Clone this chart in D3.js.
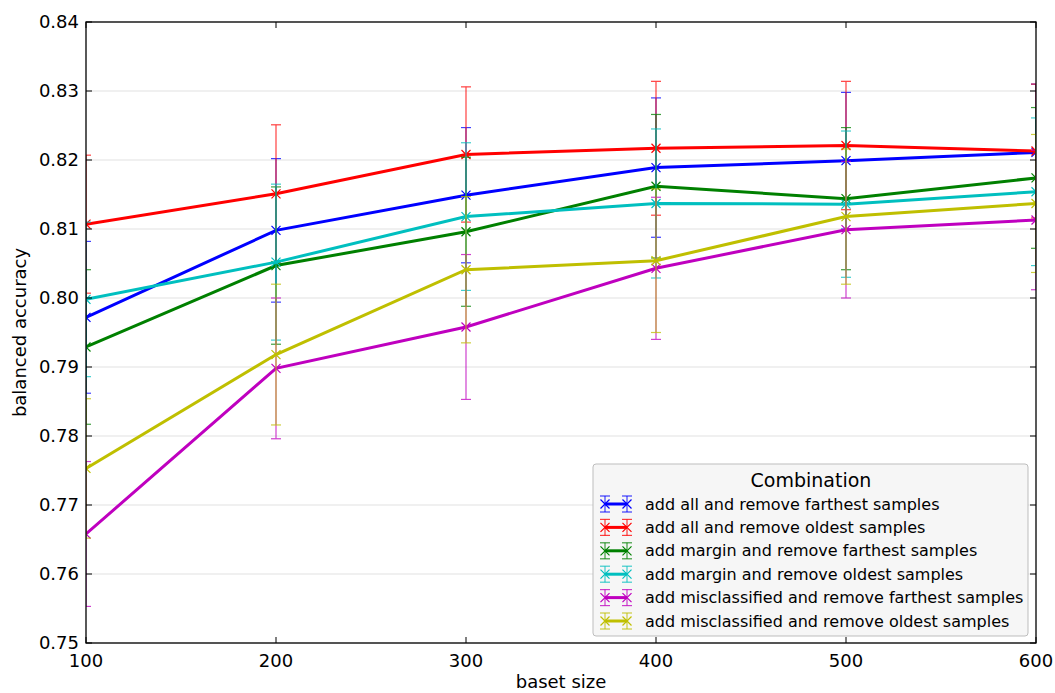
<!DOCTYPE html>
<html><head><meta charset="utf-8">
<script src="https://cdn.jsdelivr.net/npm/d3@7"></script>
<style>body{margin:0;background:#fff;} text{font-family:"DejaVu Sans",sans-serif;}</style>
</head><body><svg id="c" width="1055" height="693"></svg>
<script>
const baseSizes = [100, 200, 300, 400, 500, 600];
const yTicks = [0.75, 0.76, 0.77, 0.78, 0.79, 0.80, 0.81, 0.82, 0.83, 0.84];
const seriesNames = [
  "add all and remove farthest samples",
  "add all and remove oldest samples",
  "add margin and remove farthest samples",
  "add margin and remove oldest samples",
  "add misclassified and remove farthest samples",
  "add misclassified and remove oldest samples"
];
const seriesColors = ["#0000ff", "#ff0000", "#008000", "#00bfbf", "#bf00bf", "#bfbf00"];
const allFarthest = [0.7972, 0.8098, 0.8149, 0.8189, 0.8199, 0.8211];
const allFarthestErr = [0.0110, 0.0104, 0.0098, 0.0101, 0.0099, 0.0099];
const allOldest = [0.8107, 0.8151, 0.8208, 0.8217, 0.8221, 0.8213];
const allOldestErr = [0.0100, 0.0100, 0.0098, 0.0097, 0.0093, 0.0097];
const marginFarthest = [0.7929, 0.8047, 0.8096, 0.8162, 0.8144, 0.8174];
const marginFarthestErr = [0.0112, 0.0114, 0.0108, 0.0104, 0.0103, 0.0102];
const marginOldest = [0.7998, 0.8052, 0.8118, 0.8137, 0.8136, 0.8154];
const marginOldestErr = [0.0112, 0.0113, 0.0107, 0.0108, 0.0106, 0.0107];
const miscFarthest = [0.7658, 0.7898, 0.7958, 0.8043, 0.8099, 0.8113];
const miscFarthestErr = [0.0105, 0.0102, 0.0105, 0.0103, 0.0099, 0.0101];
const miscOldest = [0.7753, 0.7918, 0.8041, 0.8054, 0.8118, 0.8137];
const miscOldestErr = [0.0101, 0.0102, 0.0106, 0.0104, 0.0098, 0.0100];

const seriesVals = [allFarthest, allOldest, marginFarthest, marginOldest, miscFarthest, miscOldest];
const seriesErrs = [allFarthestErr, allOldestErr, marginFarthestErr, marginOldestErr, miscFarthestErr, miscOldestErr];

const svg = d3.select("#c");
const L = 86, R = 1036, T = 22, B = 643;
const x = d3.scaleLinear().domain([100, 600]).range([L, R]);
const y = d3.scaleLinear().domain([0.75, 0.84]).range([B, T]);

svg.append("g").selectAll("line").data(yTicks).join("line")
  .attr("x1", L).attr("x2", R).attr("y1", d => y(d)).attr("y2", d => y(d))
  .attr("stroke", "#ebebeb").attr("stroke-width", 1.5);

svg.append("clipPath").attr("id", "clip").append("rect")
  .attr("x", L).attr("y", T).attr("width", R - L).attr("height", B - T);

const plot = svg.append("g").attr("clip-path", "url(#clip)");

const series = seriesNames.map((n, i) => ({
  name: n, color: seriesColors[i],
  pts: baseSizes.map((b, j) => ({x: b, y: seriesVals[i][j], e: seriesErrs[i][j]}))
}));

const line = d3.line().x(d => x(d.x)).y(d => y(d.y));
const cap = 5, mk = 4.5;

series.forEach(s => {
  const g = plot.append("g");
  const eb = g.append("g").attr("stroke", s.color).attr("stroke-width", 1.2).attr("opacity", 0.75);
  s.pts.forEach(p => {
    eb.append("line").attr("x1", x(p.x)).attr("x2", x(p.x)).attr("y1", y(p.y - p.e)).attr("y2", y(p.y + p.e));
    [p.y - p.e, p.y + p.e].forEach(v => {
      eb.append("line").attr("x1", x(p.x) - cap).attr("x2", x(p.x) + cap).attr("y1", y(v)).attr("y2", y(v));
    });
  });
  g.append("path").datum(s.pts).attr("d", line).attr("fill", "none")
    .attr("stroke", s.color).attr("stroke-width", 3);
  const m = g.append("g").attr("stroke", s.color).attr("stroke-width", 1.2);
  s.pts.forEach(p => {
    const cx = x(p.x), cy = y(p.y);
    m.append("path").attr("d", `M${cx-mk},${cy-mk}L${cx+mk},${cy+mk}M${cx-mk},${cy+mk}L${cx+mk},${cy-mk}`);
  });
});

svg.append("rect").attr("x", L).attr("y", T).attr("width", R - L).attr("height", B - T)
  .attr("fill", "none").attr("stroke", "#000").attr("stroke-width", 1.3);

const tl = 6;
const tg = svg.append("g").attr("stroke", "#000").attr("stroke-width", 1);
yTicks.forEach(v => {
  tg.append("line").attr("x1", L).attr("x2", L + tl).attr("y1", y(v)).attr("y2", y(v));
  tg.append("line").attr("x1", R).attr("x2", R - tl).attr("y1", y(v)).attr("y2", y(v));
});
baseSizes.forEach(v => {
  tg.append("line").attr("x1", x(v)).attr("x2", x(v)).attr("y1", B).attr("y2", B - tl);
  tg.append("line").attr("x1", x(v)).attr("x2", x(v)).attr("y1", T).attr("y2", T + tl);
});

svg.append("g").selectAll("text").data(yTicks).join("text")
  .attr("x", L - 7).attr("y", d => y(d)).attr("dy", "0.35em").attr("text-anchor", "end")
  .attr("font-size", 18).text(d => d.toFixed(2));
svg.append("g").selectAll("text").data(baseSizes).join("text")
  .attr("x", d => x(d)).attr("y", B + 24).attr("text-anchor", "middle")
  .attr("font-size", 18).text(d => d);

svg.append("text").attr("x", (L + R) / 2).attr("y", 688).attr("text-anchor", "middle")
  .attr("font-size", 18).text("baset size");
svg.append("text").attr("transform", `translate(26,${(T + B) / 2}) rotate(-90)`)
  .attr("text-anchor", "middle").attr("font-size", 18).text("balanced accuracy");

const lg = svg.append("g").attr("transform", "translate(593,464)");
lg.append("rect").attr("width", 435).attr("height", 172).attr("rx", 3)
  .attr("fill", "#f5f5f5").attr("fill-opacity", 0.95).attr("stroke", "#bdbdbd").attr("stroke-width", 1);
lg.append("text").attr("x", 218).attr("y", 16).attr("text-anchor", "middle")
  .attr("font-size", 19).attr("dy", "0.35em").text("Combination");
series.forEach((s, i) => {
  const yy = 40 + i * 23.4;
  const g = lg.append("g").attr("transform", `translate(0,${yy})`);
  g.append("line").attr("x1", 12).attr("x2", 34).attr("y1", 0).attr("y2", 0)
    .attr("stroke", s.color).attr("stroke-width", 3);
  [12, 34].forEach(cx => {
    g.append("line").attr("x1", cx).attr("x2", cx).attr("y1", -8).attr("y2", 8).attr("stroke", s.color).attr("stroke-width", 1.2).attr("opacity", 0.75);
    [-8, 8].forEach(cy => g.append("line").attr("x1", cx - 5).attr("x2", cx + 5).attr("y1", cy).attr("y2", cy).attr("stroke", s.color).attr("stroke-width", 1.2).attr("opacity", 0.75));
    g.append("path").attr("d", `M${cx-mk},${-mk}L${cx+mk},${mk}M${cx-mk},${mk}L${cx+mk},${-mk}`).attr("stroke", s.color).attr("stroke-width", 1.2);
  });
  g.append("text").attr("x", 52).attr("y", 0).attr("dy", "0.35em").attr("font-size", 16).text(s.name);
});
</script></body></html>
